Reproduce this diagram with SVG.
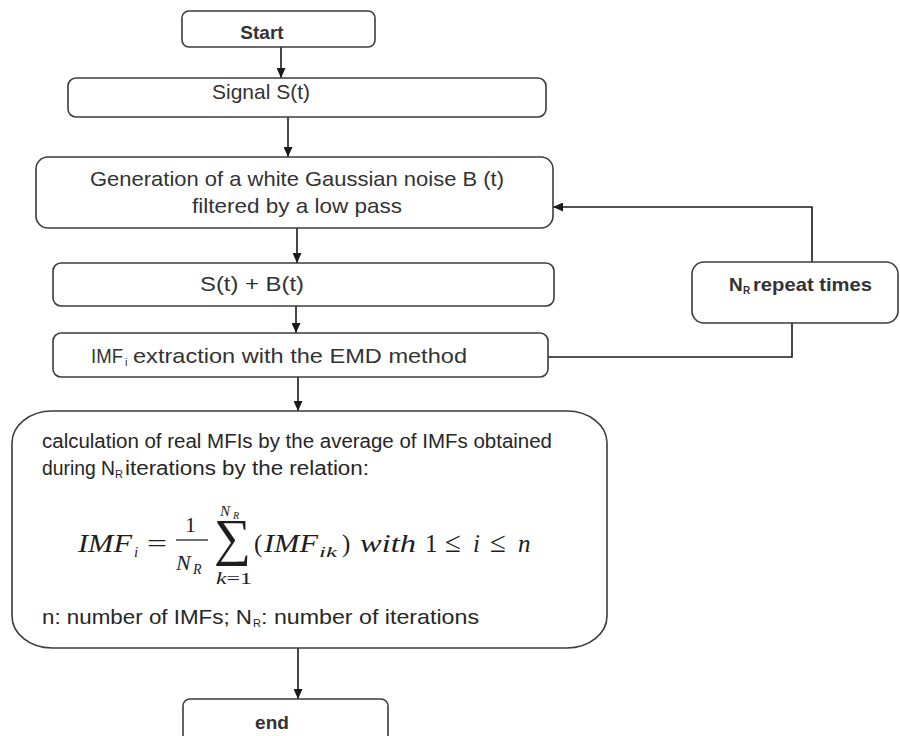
<svg xmlns="http://www.w3.org/2000/svg" width="900" height="736" viewBox="0 0 900 736">
<defs>
<marker id="ah" markerWidth="10" markerHeight="9" refX="10" refY="4.5" orient="auto" markerUnits="userSpaceOnUse">
<path d="M0,0 L10,4.5 L0,9 z" fill="#1a1a1a"/>
</marker>
<style>
.box{fill:#fff;stroke:#3c3c3c;stroke-width:1.6}
.t{font-family:"Liberation Sans",Arial,sans-serif;fill:#333}
.b{font-weight:bold}
.c{font-family:"Liberation Sans",Arial,sans-serif;fill:#262626}
.m{font-family:"Liberation Serif","Times New Roman",serif;fill:#1e1e1e}
.i{font-style:italic}
.con{fill:none;stroke:#1a1a1a;stroke-width:1.6}
</style>
</defs>
<rect width="900" height="736" fill="#fff"/>
<g id="connectors">
<line class="con" x1="281" y1="47" x2="281" y2="78" marker-end="url(#ah)"/>
<line class="con" x1="288" y1="117" x2="288" y2="157" marker-end="url(#ah)"/>
<line class="con" x1="297" y1="228" x2="297" y2="263" marker-end="url(#ah)"/>
<line class="con" x1="296" y1="306" x2="296" y2="333" marker-end="url(#ah)"/>
<line class="con" x1="298" y1="377" x2="298" y2="411" marker-end="url(#ah)"/>
<line class="con" x1="298" y1="648" x2="298" y2="699" marker-end="url(#ah)"/>
<polyline class="con" points="812,262 812,207 553,207" marker-end="url(#ah)"/>
<polyline class="con" points="548,357 792,357 792,323"/>
</g>
<g id="start">
<rect class="box" x="182" y="11" width="193" height="36" rx="7"/>
<text class="t b" x="262" y="39" text-anchor="middle" font-size="19">Start</text>
</g>
<g id="signal">
<rect class="box" x="68" y="78" width="478" height="39" rx="8"/>
<text class="t" x="261" y="99" text-anchor="middle" font-size="21" textLength="98" lengthAdjust="spacingAndGlyphs">Signal S(t)</text>
</g>
<g id="noise">
<rect class="box" x="36" y="157" width="517" height="71" rx="12"/>
<text class="t" x="297" y="186" text-anchor="middle" font-size="21" textLength="414" lengthAdjust="spacingAndGlyphs">Generation of a white Gaussian noise B (t)</text>
<text class="t" x="297" y="213" text-anchor="middle" font-size="21" textLength="210" lengthAdjust="spacingAndGlyphs">filtered by a low pass</text>
</g>
<g id="sum">
<rect class="box" x="53" y="263" width="501" height="43" rx="8"/>
<text class="t" x="252" y="291" text-anchor="middle" font-size="21" textLength="104" lengthAdjust="spacingAndGlyphs">S(t) + B(t)</text>
</g>
<g id="imf">
<rect class="box" x="53" y="333" width="495" height="44" rx="8"/>
<text class="t" x="91" y="363" font-size="21" textLength="32" lengthAdjust="spacingAndGlyphs">IMF</text>
<text class="t" x="125" y="366" font-size="11">i</text>
<text class="t" x="133" y="363" font-size="21" textLength="334" lengthAdjust="spacingAndGlyphs">extraction with the EMD method</text>
</g>
<g id="repeat">
<rect class="box" x="692" y="262" width="206" height="61" rx="12"/>
<text class="t b" x="729" y="291" font-size="19">N</text>
<text class="t b" x="743" y="294" font-size="10">R</text>
<text class="t b" x="753" y="291" font-size="19" textLength="119" lengthAdjust="spacingAndGlyphs">repeat times</text>
</g>
<g id="calc">
<rect class="box" x="12" y="411" width="595" height="237" rx="40" ry="32"/>
<text class="c" x="42" y="448" font-size="20" textLength="510" lengthAdjust="spacingAndGlyphs">calculation of real MFIs by the average of IMFs obtained</text>
<text class="c" x="42" y="475" font-size="20" textLength="73" lengthAdjust="spacingAndGlyphs">during N</text>
<text class="c" x="115" y="478" font-size="11">R</text>
<text class="c" x="125" y="475" font-size="20" textLength="244" lengthAdjust="spacingAndGlyphs">iterations by the relation:</text>
<g id="formula" class="m">
<text class="i" x="78" y="552" font-size="25" textLength="54" lengthAdjust="spacingAndGlyphs">IMF</text>
<text class="i" x="134" y="557" font-size="15">i</text>
<text x="147" y="551" font-size="24" textLength="20" lengthAdjust="spacingAndGlyphs">=</text>
<text x="185" y="532" font-size="22">1</text>
<line x1="176" y1="540" x2="208" y2="540" stroke="#1e1e1e" stroke-width="1.3"/>
<text class="i" x="176" y="570" font-size="22">N</text>
<text class="i" x="193" y="574" font-size="14">R</text>
<text x="214" y="555" font-size="52">∑</text>
<text class="i" x="220" y="516" font-size="15">N</text>
<text class="i" x="233" y="519" font-size="10">R</text>
<text x="216" y="584" font-size="16" textLength="36" lengthAdjust="spacingAndGlyphs"><tspan class="i">k</tspan>=1</text>
<text x="254" y="552" font-size="25">(</text>
<text class="i" x="264" y="552" font-size="25" textLength="54" lengthAdjust="spacingAndGlyphs">IMF</text>
<text class="i" x="319" y="557" font-size="15" textLength="18" lengthAdjust="spacingAndGlyphs">ik</text>
<text x="342" y="552" font-size="25">)</text>
<text class="i" x="360" y="552" font-size="25" textLength="56" lengthAdjust="spacingAndGlyphs">with</text>
<text x="425" y="552" font-size="25">1</text>
<text x="445" y="552" font-size="29">≤</text>
<text class="i" x="473" y="552" font-size="25">i</text>
<text x="490" y="552" font-size="29">≤</text>
<text class="i" x="518" y="552" font-size="25">n</text>
</g>
<text class="c" x="42" y="624" font-size="21" textLength="210" lengthAdjust="spacingAndGlyphs">n: number of IMFs; N</text>
<text class="c" x="253" y="627" font-size="11">R</text>
<text class="c" x="261" y="624" font-size="21" textLength="218" lengthAdjust="spacingAndGlyphs">: number of iterations</text>
</g>
<g id="end">
<rect class="box" x="183" y="699" width="205" height="52" rx="7"/>
<text class="t b" x="272" y="729" text-anchor="middle" font-size="19">end</text>
</g>
</svg>
